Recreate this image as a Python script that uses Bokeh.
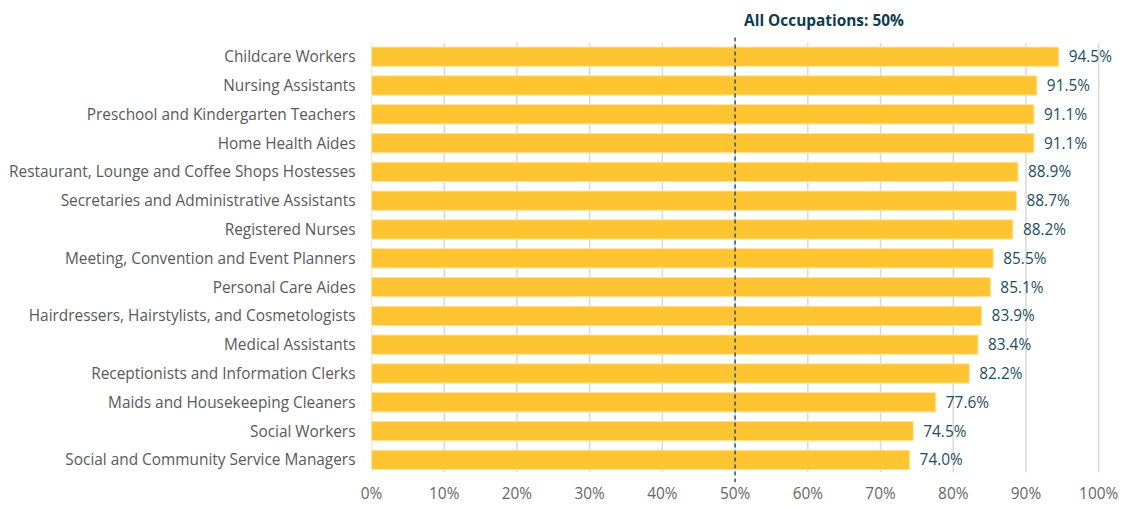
from bokeh.plotting import figure
from bokeh.models import ColumnDataSource, Range1d, FixedTicker, PrintfTickFormatter, Label
from bokeh.core.properties import value
from bokeh.embed import file_html
from bokeh.resources import INLINE

categories = [
    "Childcare Workers",
    "Nursing Assistants",
    "Preschool and Kindergarten Teachers",
    "Home Health Aides",
    "Restaurant, Lounge and Coffee Shops Hostesses",
    "Secretaries and Administrative Assistants",
    "Registered Nurses",
    "Meeting, Convention and Event Planners",
    "Personal Care Aides",
    "Hairdressers, Hairstylists, and Cosmetologists",
    "Medical Assistants",
    "Receptionists and Information Clerks",
    "Maids and Housekeeping Cleaners",
    "Social Workers",
    "Social and Community Service Managers",
]
values = [94.5, 91.5, 91.1, 91.1, 88.9, 88.7, 88.2, 85.5, 85.1, 83.9, 83.4, 82.2, 77.6, 74.5, 74.0]
x_ticks = [0, 10, 20, 30, 40, 50, 60, 70, 80, 90, 100]
reference_value = 50
reference_label = "All Occupations: 50%"

FONT = "Open Sans"
FS = "15.4px"
n = len(categories)
idx = list(range(n))

src = ColumnDataSource(dict(
    y=idx,
    v=values,
    lbl=[f"{v:.1f}%" for v in values],
))

p = figure(
    width=1130, height=506,
    x_range=Range1d(0, 104.1),
    y_range=Range1d(n - 1 + 0.787, -1.951),
    output_backend="svg", toolbar_location=None,
    min_border_left=371, min_border_right=2, min_border_top=0, min_border_bottom=0,
)
p.outline_line_color = None
p.background_fill_color = "white"
p.xgrid.visible = False
p.ygrid.visible = False

# grid lines (vertical)
p.segment(x0=x_ticks, x1=x_ticks, y0=[-0.471] * len(x_ticks), y1=[n - 1 + 0.43] * len(x_ticks),
          line_color="#d9d9d9", line_width=1.5)

# bars
p.hbar(y="y", right="v", left=0, height=0.669, source=src,
       fill_color="#FEC432", line_color="#FFE39A", line_width=1)

# value labels
p.text(x="v", y="y", text="lbl", source=src, x_offset=10,
       text_baseline="middle", text_align="left",
       text_font=value(FONT), text_font_size=FS, text_color="#1e4d61")

# reference dashed line
p.segment(x0=[reference_value], x1=[reference_value], y0=[-0.669], y1=[n - 1 + 0.8],
          line_color="#224d5c", line_width=1.4, line_dash="4 3")

p.add_layout(Label(x=reference_value, y=-1.24, x_offset=9, text=reference_label,
                   text_baseline="middle", text_align="left",
                   text_font=FONT, text_font_size=FS, text_font_style="bold",
                   text_color="#0e3c4e"))

# x axis
xa = p.xaxis[0]
xa.ticker = FixedTicker(ticks=x_ticks)
xa.formatter = PrintfTickFormatter(format="%d%%")
xa.axis_line_color = None
xa.major_tick_line_color = None
xa.minor_tick_line_color = None
xa.major_tick_out = 0
xa.major_tick_in = 0
xa.major_label_standoff = 0
xa.major_label_text_font = FONT
xa.major_label_text_font_size = FS
xa.major_label_text_color = "#666666"

# y axis
ya = p.yaxis[0]
ya.ticker = FixedTicker(ticks=idx)
ya.major_label_overrides = {i: c for i, c in enumerate(categories)}
ya.axis_line_color = None
ya.major_tick_line_color = None
ya.minor_tick_line_color = None
ya.major_tick_out = 0
ya.major_tick_in = 0
ya.major_label_standoff = 16
ya.major_label_text_font = FONT
ya.major_label_text_font_size = FS
ya.major_label_text_color = "#595959"

open("out.html", "w").write(file_html(p, INLINE))
